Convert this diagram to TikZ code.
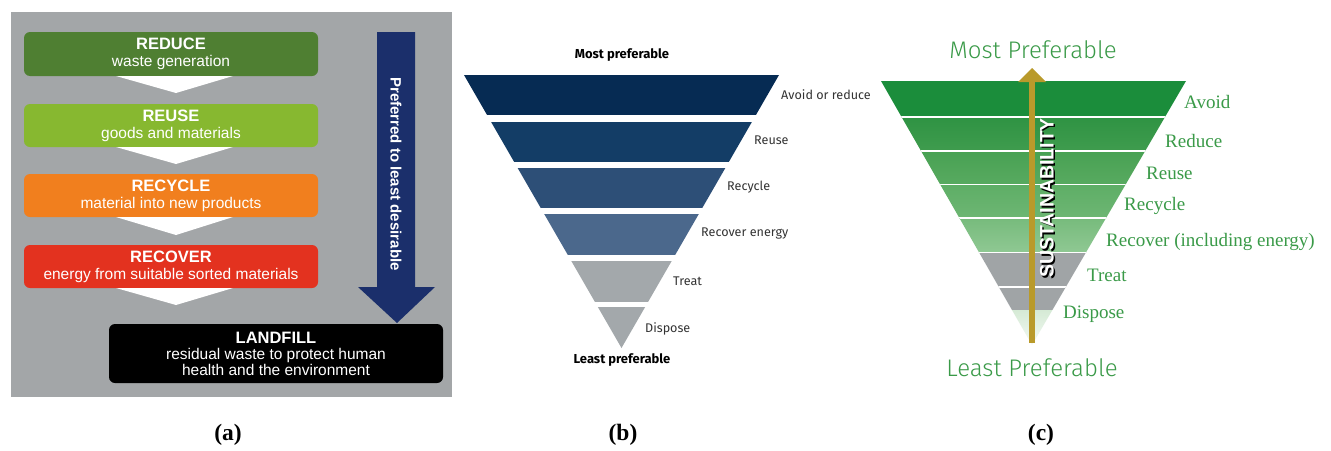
\documentclass[tikz,border=0pt]{standalone}
\usepackage{fontspec}
\setmainfont{Liberation Serif}
\newfontfamily\arialf{Liberation Sans}
\newfontfamily\firaf{Fira Sans}
\newfontfamily\handf{Fira Sans Light}
\newfontfamily\serf{Liberation Serif}
\definecolor{agray}{HTML}{A3A6A8}
\definecolor{cReduce}{HTML}{4F7F32}
\definecolor{cReuse}{HTML}{87B830}
\definecolor{cRecycle}{HTML}{F17F1E}
\definecolor{cRecover}{HTML}{E3321F}
\definecolor{cNavy}{HTML}{1B2F6B}
\definecolor{bA}{HTML}{062B53}
\definecolor{bB}{HTML}{133D66}
\definecolor{bC}{HTML}{2D4F77}
\definecolor{bD}{HTML}{4B688C}
\definecolor{bE}{HTML}{A3A8AB}
\definecolor{btext}{HTML}{333333}
\definecolor{gtext}{HTML}{3A9A48}
\definecolor{gold}{HTML}{B99A2B}
\definecolor{cgray}{HTML}{A0A4A6}
\definecolor{g1}{HTML}{1B8D3B}
\definecolor{g2a}{HTML}{2F9343}
\definecolor{g2b}{HTML}{3F9C4E}
\definecolor{g3a}{HTML}{48A153}
\definecolor{g3b}{HTML}{58AA60}
\definecolor{g4a}{HTML}{5EAE66}
\definecolor{g4b}{HTML}{6DB673}
\definecolor{g5a}{HTML}{77BB7C}
\definecolor{g5b}{HTML}{8FC893}
\definecolor{g8a}{HTML}{D5EAD5}
\definecolor{g8b}{HTML}{F5FAF5}
\begin{document}
\begin{tikzpicture}[x=1pt,y=-1pt,
  abox/.style={rounded corners=6pt, inner sep=0pt, text=white, align=center,
    font=\arialf\fontsize{15.5}{17}\selectfont},
  atitle/.style={font=\bfseries\fontsize{16.5}{17}\selectfont},
  blabel/.style={anchor=west, inner sep=0pt, text=btext, font=\firaf\fontsize{12.6}{14}\selectfont},
  btitle/.style={inner sep=0pt, text=black, font=\firaf\bfseries\fontsize{13}{14}\selectfont},
  clabel/.style={anchor=west, inner sep=0pt, text=gtext, font=\serf\fontsize{19}{20}\selectfont},
  ctitle/.style={inner sep=0pt, text=gtext, font=\handf\fontsize{24}{26}\selectfont},
  caption/.style={inner sep=0pt, font=\serf\bfseries\fontsize{23.5}{24}\selectfont}]
\useasboundingbox (0,0) rectangle (1331,450);
\fill[white] (0,0) rectangle (1331,450);

% ---------------- panel (a)
\fill[agray] (11,12) rectangle (452,397);
\node[abox, fill=cReduce, minimum width=294, minimum height=44] (reduce) at (171,54)
  {{\bfseries\fontsize{16.5}{17}\selectfont REDUCE}\\waste generation};
\node[abox, fill=cReuse, minimum width=294, minimum height=43] (reuse) at (171,125.5)
  {{\bfseries\fontsize{16.5}{17}\selectfont REUSE}\\goods and materials};
\node[abox, fill=cRecycle, minimum width=294, minimum height=43] (recycle) at (171,195.5)
  {{\bfseries\fontsize{16.5}{17}\selectfont RECYCLE}\\material into new products};
\node[abox, fill=cRecover, minimum width=294, minimum height=43] (recover) at (171,266.5)
  {{\bfseries\fontsize{16.5}{17}\selectfont RECOVER}\\energy from suitable sorted materials};
\node[abox, fill=black, minimum width=334, minimum height=59,
  font=\arialf\fontsize{15.5}{16}\selectfont] (landfill) at (276,353.5)
  {{\bfseries\fontsize{16.5}{16}\selectfont LANDFILL}\\residual waste to protect human\\health and the environment};
\fill[white] (116,76) -- (233,76) -- (176,93) -- cycle;
\fill[white] (116,147) -- (233,147) -- (176,164) -- cycle;
\fill[white] (116,217) -- (233,217) -- (176,235) -- cycle;
\fill[white] (116,288) -- (233,288) -- (176,305) -- cycle;
\fill[cNavy] (377,32) -- (415,32) -- (415,287) -- (435,287) -- (397,323)
  -- (358,287) -- (377,287) -- cycle;
\node[rotate=-90, text=white, inner sep=0pt, font=\arialf\bfseries\fontsize{15}{17}\selectfont]
  (pref) at (396,174) {Preferred to least desirable};

% ---------------- panel (b)
\node[btitle] (bmost) at (622,55) {Most preferable};
\begin{scope}
\clip (464,75) -- (779,75) -- (621.5,348) -- cycle;
\fill[bA] (450,75) rectangle (800,115);
\fill[bB] (450,122) rectangle (800,162);
\fill[bC] (450,168) rectangle (800,208);
\fill[bD] (450,214) rectangle (800,255);
\fill[bE] (450,261) rectangle (800,302);
\fill[bE] (450,307) rectangle (800,350);
\end{scope}
\node[blabel] (b1) at (781,95) {Avoid or reduce};
\node[blabel] (b2) at (754,140) {Reuse};
\node[blabel] (b3) at (727,187) {Recycle};
\node[blabel] (b4) at (701,233) {Recover energy};
\node[blabel] (b5) at (673,281) {Treat};
\node[blabel] (b6) at (645,329) {Dispose};
\node[btitle] (bleast) at (622,360) {Least preferable};

% ---------------- panel (c)
\node[ctitle] (cmost) at (1033,50) {Most Preferable};
\begin{scope}
\clip (881,81) -- (1186,81) -- (1032,345) -- cycle;
\fill[g1] (870,81) rectangle (1200,117);
\shade[top color=g2a, bottom color=g2b] (870,117) rectangle (1200,151);
\shade[top color=g3a, bottom color=g3b] (870,151) rectangle (1200,184.3);
\shade[top color=g4a, bottom color=g4b] (870,184.3) rectangle (1200,218);
\shade[top color=g5a, bottom color=g5b] (870,218) rectangle (1200,252.3);
\fill[cgray] (870,252.3) rectangle (1200,310);
\shade[top color=g8a, bottom color=g8b] (870,310) rectangle (1200,346);
\foreach \yy in {116.7,150.7,184.3,218,252.3,286.7}
  \draw[white, line width=1.6pt] (870,\yy) -- (1200,\yy);
\end{scope}
\fill[gold] (1029,82) rectangle (1035,343);
\fill[gold] (1018,82) -- (1046,82) -- (1032,68) -- cycle;
\node[rotate=90, text=black, inner sep=0pt, font=\arialf\bfseries\fontsize{19.5}{20}\selectfont]
  at (1048.5,199.5) {SUSTAINABILITY};
\node[rotate=90, text=white, inner sep=0pt, font=\arialf\bfseries\fontsize{19.5}{20}\selectfont]
  (sust) at (1047,198) {SUSTAINABILITY};
\node[clabel] (c1) at (1184,102) {Avoid};
\node[clabel] (c2) at (1165,141) {Reduce};
\node[clabel] (c3) at (1146,173) {Reuse};
\node[clabel] (c4) at (1124,206) {Recycle};
\node[clabel] (c5) at (1106,242) {Recover (including energy)};
\node[clabel] (c6) at (1087,275) {Treat};
\node[clabel] (c7) at (1063,314) {Dispose};
\node[ctitle] (cleast) at (1032,368) {Least Preferable};

% ---------------- captions
\node[caption] (capa) at (228,434.5) {(a)};
\node[caption] (capb) at (623,434.5) {(b)};
\node[caption] (capc) at (1041,434.5) {(c)};
\end{tikzpicture}
\end{document}
